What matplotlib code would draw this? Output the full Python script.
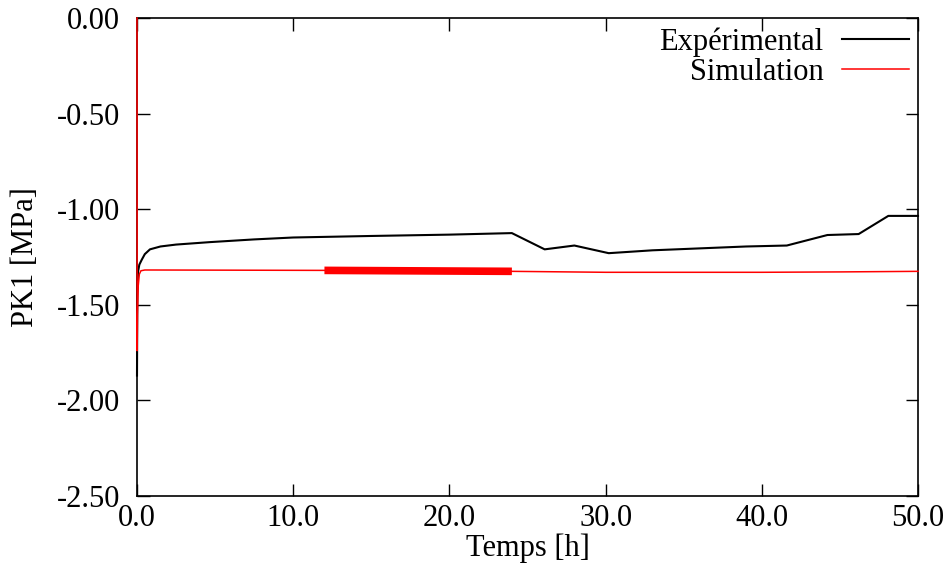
import matplotlib
matplotlib.use("Agg")
import matplotlib.pyplot as plt
import numpy as np

plt.rcParams['font.family'] = ['Liberation Serif', 'DejaVu Serif']

# Expérimental (black)
t_exp = [0, 0.02, 0.06, 0.15, 0.3, 0.5, 0.83, 1.5, 2.5, 4.7, 7.5, 10, 15, 20,
         24.0, 26.1, 28.0, 30.2, 33, 36, 39, 41.6, 44.2, 46.2, 48.1, 50]
y_exp = [-1.87, -1.45, -1.33, -1.29, -1.265, -1.235, -1.21, -1.195, -1.185,
         -1.172, -1.158, -1.148, -1.14, -1.133, -1.125, -1.21, -1.19, -1.23,
         -1.215, -1.205, -1.195, -1.19, -1.135, -1.13, -1.035, -1.035]

# Simulation (red)
t_sim = [0, 0.01, 0.03, 0.08, 0.15, 0.25, 0.5, 1, 12, 24, 30, 40, 45, 50]
y_sim = [0, -1.74, -1.55, -1.40, -1.34, -1.322, -1.318, -1.318, -1.32,
         -1.325, -1.33, -1.33, -1.328, -1.325]

# oscillating part of the simulation (drawn as a thick band)
t_osc = [12, 24]
y_osc = [-1.32, -1.325]

xticks = [0, 10, 20, 30, 40, 50]
yticks = [0, -0.5, -1.0, -1.5, -2.0, -2.5]

fig = plt.figure(figsize=(9.5, 5.79), dpi=100)
ax = fig.add_axes([137 / 950, 1 - 496 / 579, (918 - 137) / 950, (496 - 18) / 579])

ax.plot(t_exp, y_exp, color='black', lw=1.5, label='Expérimental',
        zorder=3, clip_on=False)
ax.plot(t_sim, y_sim, color='red', lw=1.1, label='Simulation',
        zorder=4, clip_on=False)
ax.plot(t_osc, y_osc, color='red', lw=5.5, solid_capstyle='butt', zorder=4)

ax.set_xlim(0, 50)
ax.set_ylim(-2.5, 0)
ax.set_xticks(xticks)
ax.set_yticks(yticks)
ax.set_xticklabels([f"{v:.1f}" for v in xticks])
ax.set_yticklabels([f"{v:.2f}" for v in yticks])
ax.tick_params(direction='in', length=9, width=1, top=True, right=True,
               labelsize=22)
ax.tick_params(axis='y', pad=12)
ax.tick_params(axis='x', pad=6)
for s in ax.spines.values():
    s.set_linewidth(1.2)

ax.set_xlabel('Temps [h]', fontsize=22, labelpad=0)
ax.set_ylabel('PK1 [MPa]', fontsize=22, labelpad=12)

leg = ax.legend(loc='upper right', markerfirst=False, frameon=False,
                fontsize=22, handlelength=2.2, labelspacing=0.05,
                borderaxespad=0.1, borderpad=0.2, handletextpad=0.6)

fig.savefig('out.png', dpi=100)
